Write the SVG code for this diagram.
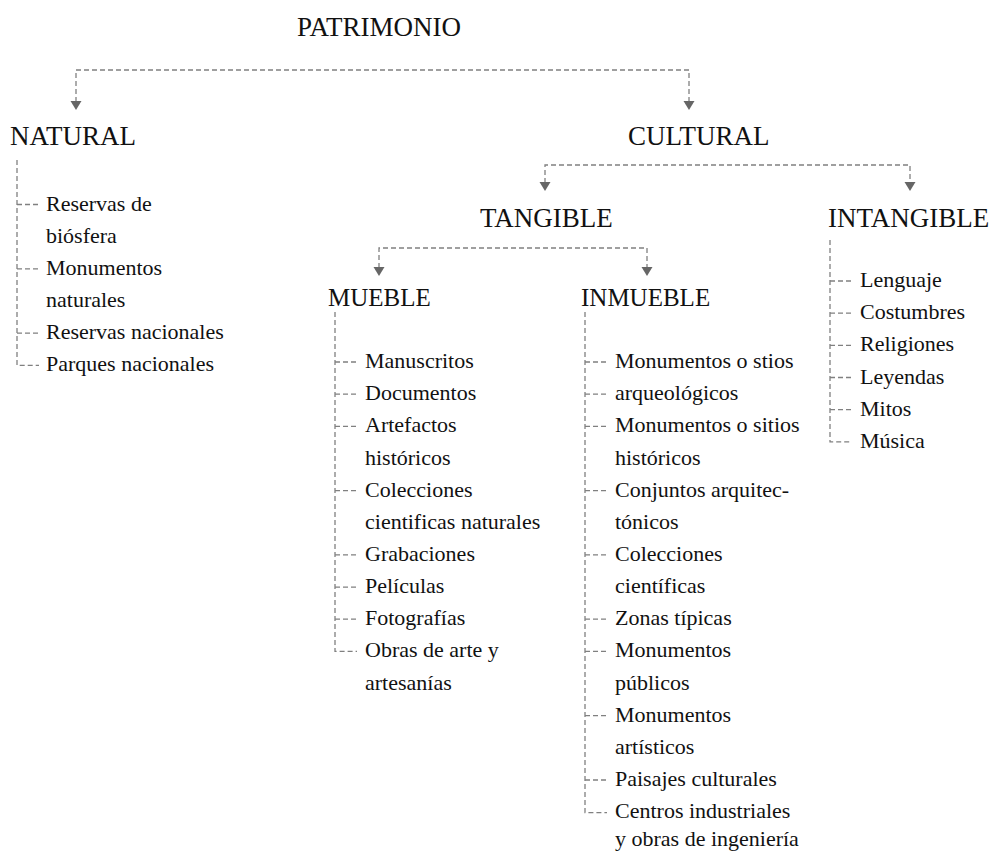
<svg xmlns="http://www.w3.org/2000/svg" width="995" height="851" viewBox="0 0 995 851">
<style>
text{font-family:"Liberation Serif","Times New Roman",serif;fill:#111}
.h1{font-size:27px}
.h2{font-size:25px}
.it{font-size:22px}
.c{fill:none;stroke:#808080;stroke-width:1.3;stroke-dasharray:5 3}
.ah{fill:#666}
</style>
<defs>
<path id="arr" d="M-5.5,-9 L5.5,-9 L0,0 Z" class="ah"/>
</defs>
<rect width="995" height="851" fill="#fff"/>
<g id="connectors">
<path class="c" d="M76,102 V70 H689 V102"/>
<use href="#arr" x="76" y="110"/>
<use href="#arr" x="689" y="110"/>
<path class="c" d="M545,183 V165 H910 V183"/>
<use href="#arr" x="545" y="191"/>
<use href="#arr" x="910" y="191"/>
<path class="c" d="M379,268 V248 H647 V268"/>
<use href="#arr" x="379" y="276"/>
<use href="#arr" x="647" y="276"/>
<path class="c" d="M17,160 V365.3 H39"/>
<path class="c" d="M17,204.5 H39"/>
<path class="c" d="M17,268.8 H39"/>
<path class="c" d="M17,333.1 H39"/>
<path class="c" d="M335,312 V651.4 H357"/>
<path class="c" d="M335,362 H357"/>
<path class="c" d="M335,394.2 H357"/>
<path class="c" d="M335,426.3 H357"/>
<path class="c" d="M335,490.6 H357"/>
<path class="c" d="M335,554.9 H357"/>
<path class="c" d="M335,587.1 H357"/>
<path class="c" d="M335,619.2 H357"/>
<path class="c" d="M585,312 V812.6 H607"/>
<path class="c" d="M585,362 H607"/>
<path class="c" d="M585,394.2 H607"/>
<path class="c" d="M585,426.3 H607"/>
<path class="c" d="M585,490.6 H607"/>
<path class="c" d="M585,554.9 H607"/>
<path class="c" d="M585,619.2 H607"/>
<path class="c" d="M585,651.4 H607"/>
<path class="c" d="M585,715.7 H607"/>
<path class="c" d="M585,780 H607"/>
<path class="c" d="M830,240 V441.8 H852"/>
<path class="c" d="M830,281 H852"/>
<path class="c" d="M830,313.2 H852"/>
<path class="c" d="M830,345.3 H852"/>
<path class="c" d="M830,377.5 H852"/>
<path class="c" d="M830,409.6 H852"/>
</g>
<g id="patrimonio"><text class="h1" x="297" y="36">PATRIMONIO</text></g>
<g id="natural">
<text class="h1" x="10" y="145">NATURAL</text>
<text class="it" x="46" y="210.5">Reservas de</text>
<text class="it" x="46" y="242.7">biósfera</text>
<text class="it" x="46" y="274.8">Monumentos</text>
<text class="it" x="46" y="307">naturales</text>
<text class="it" x="46" y="339.1">Reservas nacionales</text>
<text class="it" x="46" y="371.3">Parques nacionales</text>
</g>
<g id="cultural"><text class="h1" x="628" y="145">CULTURAL</text></g>
<g id="tangible"><text class="h1" x="480" y="227">TANGIBLE</text></g>
<g id="intangible">
<text class="h1" x="828" y="227">INTANGIBLE</text>
<text class="it" x="860" y="287">Lenguaje</text>
<text class="it" x="860" y="319.2">Costumbres</text>
<text class="it" x="860" y="351.3">Religiones</text>
<text class="it" x="860" y="383.5">Leyendas</text>
<text class="it" x="860" y="415.6">Mitos</text>
<text class="it" x="860" y="447.8">Música</text>
</g>
<g id="mueble">
<text class="h2" x="328" y="306">MUEBLE</text>
<text class="it" x="365" y="368">Manuscritos</text>
<text class="it" x="365" y="400.2">Documentos</text>
<text class="it" x="365" y="432.3">Artefactos</text>
<text class="it" x="365" y="464.5">históricos</text>
<text class="it" x="365" y="496.6">Colecciones</text>
<text class="it" x="365" y="528.8">cientificas naturales</text>
<text class="it" x="365" y="560.9">Grabaciones</text>
<text class="it" x="365" y="593.1">Películas</text>
<text class="it" x="365" y="625.2">Fotografías</text>
<text class="it" x="365" y="657.4">Obras de arte y</text>
<text class="it" x="365" y="689.5">artesanías</text>
</g>
<g id="inmueble">
<text class="h2" x="581" y="306">INMUEBLE</text>
<text class="it" x="615" y="368">Monumentos o stios</text>
<text class="it" x="615" y="400.2">arqueológicos</text>
<text class="it" x="615" y="432.3">Monumentos o sitios</text>
<text class="it" x="615" y="464.5">históricos</text>
<text class="it" x="615" y="496.6">Conjuntos arquitec-</text>
<text class="it" x="615" y="528.8">tónicos</text>
<text class="it" x="615" y="560.9">Colecciones</text>
<text class="it" x="615" y="593.1">científicas</text>
<text class="it" x="615" y="625.2">Zonas típicas</text>
<text class="it" x="615" y="657.4">Monumentos</text>
<text class="it" x="615" y="689.5">públicos</text>
<text class="it" x="615" y="721.7">Monumentos</text>
<text class="it" x="615" y="753.8">artísticos</text>
<text class="it" x="615" y="786">Paisajes culturales</text>
<text class="it" x="615" y="818.1">Centros industriales</text>
<text class="it" x="615" y="845.5">y obras de ingeniería</text>
</g>
</svg>
